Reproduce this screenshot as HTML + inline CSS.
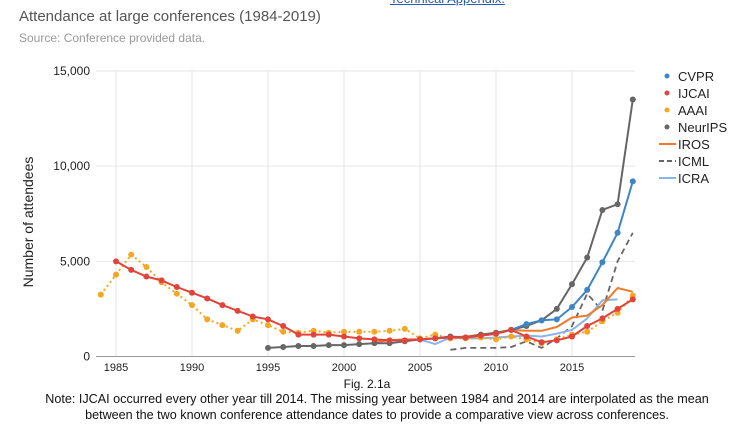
<!DOCTYPE html>
<html><head><meta charset="utf-8">
<style>
body{margin:0;background:#fff;width:734px;height:429px;overflow:hidden;position:relative;font-family:"Liberation Sans",sans-serif}
.t{position:absolute;white-space:nowrap}
</style></head><body>
<div class="t" style="left:390px;top:-9px;font-size:13px;color:#2a5db0;text-decoration:underline">Technical Appendix.</div>
<div class="t" style="left:19px;top:8px;font-size:15px;color:#555">Attendance at large conferences (1984-2019)</div>
<div class="t" style="left:19px;top:31px;font-size:12px;color:#999">Source: Conference provided data.</div>
<svg width="734" height="429" style="position:absolute;left:0;top:0" id="chart">
<g id="grid"></g><g id="series"></g><g id="axes"></g><g id="legend"></g>
<text x="33" y="222" transform="rotate(-90 33 222)" text-anchor="middle" font-size="14" fill="#222" font-family="Liberation Sans">Number of attendees</text>
</svg>
<div class="t" style="left:0;width:734px;text-align:center;top:377px;font-size:12px;color:#111">Fig. 2.1a</div>
<div class="t" style="left:0;width:754px;text-align:center;top:391px;font-size:12.6px;line-height:16px;color:#111;white-space:normal">Note: IJCAI occurred every other year till 2014. The missing year between 1984 and 2014 are interpolated as the mean<br>between the two known conference attendance dates to provide a comparative view across conferences.</div>
<script>
const yTicks=[0,5000,10000,15000];
const yTickLabels=["0","5,000","10,000","15,000"];
const xTicks=[1985,1990,1995,2000,2005,2010,2015];
const ijcaiYears=[1985,1986,1987,1988,1989,1990,1991,1992,1993,1994,1995,1996,1997,1998,1999,2000,2001,2002,2003,2004,2005,2006,2007,2008,2009,2010,2011,2012,2013,2014,2015,2016,2017,2018,2019];
const ijcaiVals=[5000,4550,4200,4000,3650,3350,3050,2700,2400,2100,1950,1600,1150,1150,1150,1050,950,900,850,850,900,950,1000,1000,1100,1200,1400,1050,750,850,1050,1600,2000,2500,3000];
const aaaiYears=[1984,1985,1986,1987,1988,1989,1990,1991,1992,1993,1994,1995,1996,1997,1998,1999,2000,2001,2002,2003,2004,2005,2006,2007,2008,2009,2010,2011,2012,2013,2014,2015,2016,2017,2018,2019];
const aaaiVals=[3250,4300,5350,4700,3900,3300,2700,1950,1650,1350,1950,1650,1300,1250,1350,1250,1300,1300,1300,1350,1450,950,1150,950,950,1000,900,1050,900,700,900,1150,1300,1850,2300,3200];
const neuripsYears=[1995,1996,1997,1998,1999,2000,2001,2002,2003,2004,2005,2006,2007,2008,2009,2010,2011,2012,2013,2014,2015,2016,2017,2018,2019];
const neuripsVals=[450,500,550,550,600,600,650,700,700,800,900,950,1050,1000,1150,1250,1400,1600,1900,2500,3800,5200,7700,8000,13500];
const cvprYears=[2009,2010,2011,2012,2013,2014,2015,2016,2017,2018,2019];
const cvprVals=[1100,1200,1400,1700,1900,1950,2600,3500,4950,6500,9200];
const irosYears=[2002,2003,2004,2005,2006,2007,2008,2009,2010,2011,2012,2013,2014,2015,2016,2017,2018,2019];
const irosVals=[750,850,900,900,950,1000,1050,1150,1200,1400,1350,1350,1550,2050,2150,2700,3600,3400];
const icmlYears=[2007,2008,2009,2010,2011,2012,2013,2014,2015,2016,2017,2018,2019];
const icmlVals=[350,450,450,450,500,800,450,950,1600,3300,2400,5000,6500];
const icraYears=[2005,2006,2007,2008,2009,2010,2011,2012,2013,2014,2015,2016,2017,2018];
const icraVals=[900,650,1000,950,950,1000,1050,1100,1050,1200,1400,2000,2950,3000];

const NS="http://www.w3.org/2000/svg";
const X=y=>116+(y-1985)*15.2;
const Y=v=>356.5-v*(285.5/15000);
function mk(t,a,p){const e=document.createElementNS(NS,t);for(const k in a)e.setAttribute(k,a[k]);p.appendChild(e);return e;}
const grid=document.getElementById('grid'),axes=document.getElementById('axes'),ser=document.getElementById('series'),leg=document.getElementById('legend');
yTicks.forEach((v,i)=>{
 if(v>0){const l=mk('line',{x1:96,x2:635,y1:Y(v),y2:Y(v),stroke:'#e6e6e6'},grid);
 
 }
 const t=mk('text',{x:90,y:Y(v)+4,'text-anchor':'end','font-size':12,fill:'#222','font-family':'Liberation Sans'},axes);
 t.textContent=yTickLabels[i];
 
 
});
xTicks.forEach(v=>{
 const l=mk('line',{x1:X(v),x2:X(v),y1:70,y2:356,stroke:'#e6e6e6'},grid);
 
 
 const t=mk('text',{x:X(v),y:371,'text-anchor':'middle','font-size':11,fill:'#222','font-family':'Liberation Sans'},axes);
 t.textContent=v;
 
 
});
const base=mk('line',{x1:96,x2:635,y1:356.5,y2:356.5,stroke:'#999'},axes);


function line(name,ys,vs,color,dash,dots,w){
 const pts=ys.map((y,i)=>X(y).toFixed(1)+','+Y(vs[i]).toFixed(1)).join(' ');
 const p=mk('polyline',{points:pts,fill:'none',stroke:color,'stroke-width':w||2,'stroke-dasharray':dash||'none','stroke-linejoin':'round'},ser);
 
 
 if(dots)ys.forEach((y,i)=>{const c=mk('circle',{cx:X(y),cy:Y(vs[i]),r:3,fill:color},ser);
 
 });
}
line('icml',icmlYears,icmlVals,'#666','6,4',false,1.8);
line('icra',icraYears,icraVals,'#8ab4e8','',false,2);
line('iros',irosYears,irosVals,'#ef7a2a','',false,2);
line('aaai',aaaiYears,aaaiVals,'#f5a623','2,3',true,2);
line('neurips',neuripsYears,neuripsVals,'#666','',true,2);
line('cvpr',cvprYears,cvprVals,'#3d85c6','',true,2);
line('ijcai',ijcaiYears,ijcaiVals,'#e0443a','',true,2);
const legItems=[['CVPR','#3d85c6','dot'],['IJCAI','#e0443a','dot'],['AAAI','#f5a623','dot'],['NeurIPS','#666','dot'],['IROS','#ef7a2a','line'],['ICML','#666','dash'],['ICRA','#8ab4e8','line']];
legItems.forEach((it,i)=>{
 const y=76+i*17;
 const g=mk('g',{},leg);
 
 
 if(it[2]==='dot')mk('circle',{cx:667,cy:y,r:2.5,fill:it[1]},g);
 else mk('line',{x1:659,x2:676,y1:y,y2:y,stroke:it[1],'stroke-width':2,'stroke-dasharray':it[2]==='dash'?'5,3':'none'},g);
 const t=mk('text',{x:678,y:y+5,'font-size':13,fill:'#222','font-family':'Liberation Sans'},g);
 t.textContent=it[0];
});
</script>
</body></html>
